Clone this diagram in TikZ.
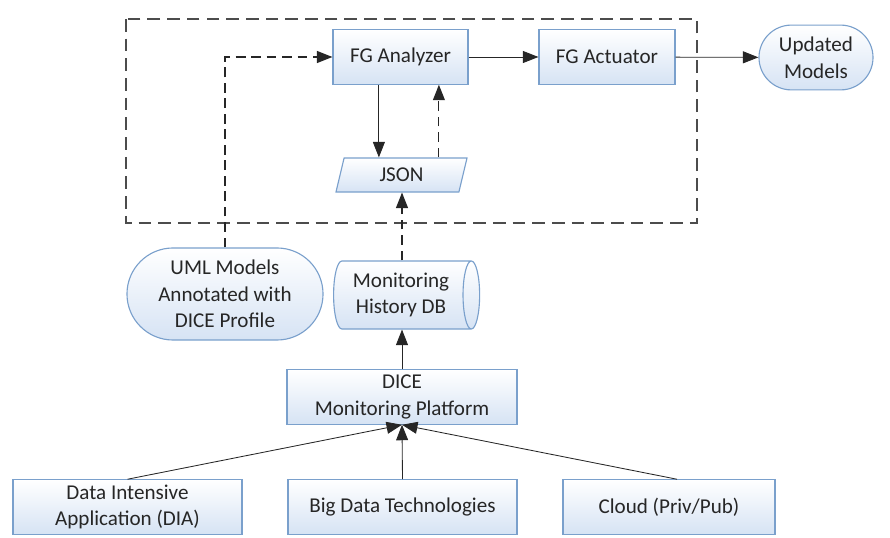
\documentclass[tikz,border=0pt]{standalone}
\usepackage{fontspec}
\setmainfont{Carlito}
\usetikzlibrary{shapes.geometric,arrows.meta}
\definecolor{boxline}{RGB}{122,160,204}
\definecolor{boxfill}{RGB}{214,227,244}
\tikzset{
  base/.style={draw=boxline, thick, top color=white, bottom color=boxfill,
    align=center, inner sep=1pt, text=black!85,
    font=\fontsize{15}{19}\selectfont},
  block/.style={base, rectangle, minimum width=#1, minimum height=1.36cm},
  stadium/.style={base, rectangle, rounded corners=#1},
  datafile/.style={base, trapezium, trapezium left angle=64,
    trapezium right angle=116, trapezium stretches body,
    minimum width=3.275cm, minimum height=0.85cm},
  store/.style={base, cylinder, aspect=0.35, minimum width=1.7cm,
    minimum height=3.65cm},
  flow/.style={-{Triangle[length=11pt,width=8.5pt]}, semithick, black!85},
  feedback/.style={flow, thick, dash pattern=on 7pt off 4pt},
  frame/.style={draw=black!70, thick, dash pattern=on 9pt off 5pt}
}

\begin{document}
\begin{tikzpicture}[x=0.025cm, y=-0.025cm]
  \useasboundingbox (0,0) rectangle (890,538);

  % loop container
  \draw[frame] (126,19) rectangle (697,223);

  % nodes
  \node[block=3.375cm] (analyzer) at (400.5,57) {FG Analyzer};
  \node[block=3.4cm] (actuator) at (607,57) {FG Actuator};
  \node[stadium=0.81cm, minimum width=2.85cm, minimum height=1.62cm]
    (updated) at (816,57.5) {Updated\\Models};
  \node[datafile] (json) at (401.5,175) {JSON};
  \node[stadium=1.15cm, minimum width=4.9cm, minimum height=2.3cm]
    (uml) at (225,294) {UML Models\\Annotated with\\DICE Profile};
  \node[store] (history) at (401,295) {Monitoring\\History DB};
  \node[block=5.75cm] (platform) at (402,397) {DICE\\Monitoring Platform};
  \node[block=5.725cm] (dia) at (127.5,507) {Data Intensive\\Application (DIA)};
  \node[block=5.725cm] (bigdata) at (402.5,507) {Big Data Technologies};
  \node[block=5.3cm] (cloud) at (669,507) {Cloud (Priv/Pub)};

  % connectors
  \draw[flow] (analyzer) -- (actuator);
  \draw[flow] (actuator) -- (updated);
  \draw[flow] ([xshift=-0.54cm]analyzer.south) -- ([xshift=-0.54cm]analyzer.south |- json.north);
  \draw[feedback] ([xshift=0.96cm]analyzer.south |- json.north) -- ([xshift=0.96cm]analyzer.south);
  \draw[feedback] (uml.north) |- (analyzer.west);
  \draw[feedback] (platform.north |- history.north) -- (platform.north |- json.south);
  \draw[flow] (platform.north) -- (platform.north |- history.south);
  \draw[flow] (dia.north) -- (platform.south);
  \draw[flow] (bigdata.north) -- (platform.south);
  \draw[flow] ([xshift=0.2cm]cloud.north) -- (platform.south);
\end{tikzpicture}
\end{document}
